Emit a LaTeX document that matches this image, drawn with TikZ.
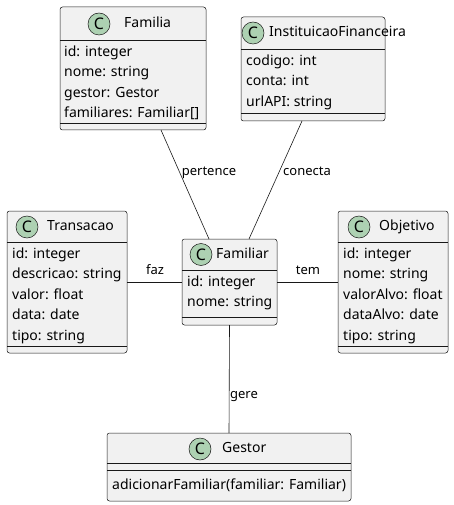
\documentclass[tikz,border=0pt]{standalone}
\usepackage{fontspec}
\setmainfont{Noto Sans}
\definecolor{boxfill}{HTML}{F1F1F1}
\definecolor{boxline}{HTML}{181818}
\definecolor{spotfill}{HTML}{ADD1B2}
\definecolor{spotline}{HTML}{181818}
\tikzset{
  classbox/.style={draw=boxline, fill=boxfill, line width=0.5pt, rounded corners=2.5pt, anchor=north west, inner sep=0pt, outer sep=0pt},
  spot/.style={circle, draw=spotline, fill=spotfill, line width=0.5pt, minimum size=22pt, inner sep=0pt, font=\fontsize{16}{16}\selectfont\bfseries},
  cname/.style={anchor=west, inner sep=0pt, text height=10.5pt, text depth=3pt, font=\fontsize{14}{16}\selectfont},
  attr/.style={anchor=west, inner sep=0pt, text height=10.5pt, text depth=3pt, font=\fontsize{14}{16}\selectfont},
  lbl/.style={inner sep=0pt, text height=9.5pt, text depth=3pt, font=\fontsize{13}{15}\selectfont},
  sep/.style={draw=boxline, line width=0.5pt},
  link/.style={draw=boxline, line width=0.6pt}
}
\begin{document}
\begin{tikzpicture}[x=1pt, y=-1pt]
\useasboundingbox (0,0) rectangle (454,505);
% Familia
\node[classbox, minimum width=146pt, minimum height=123pt] (familia) at (60,7) {};
\draw[sep] (60,40) -- (206,40) (60,123) -- (206,123);
\node[spot] (sfamilia) at (99,24) {C};
\node[cname] (nfamilia) at (124,24) {Familia};
\node[attr] (a11) at (64,52.3) {id: integer};
\node[attr] (a12) at (64,72.8) {nome: string};
\node[attr] (a13) at (64,93.3) {gestor: Gestor};
\node[attr] (a14) at (64,113.8) {familiares: Familiar[]};
% InstituicaoFinanceira
\node[classbox, minimum width=144pt, minimum height=104pt] (inst) at (241,17) {};
\draw[sep] (241,49) -- (385,49) (241,113) -- (385,113);
\node[spot] (sinst) at (253,33) {C};
\node[cname] (ninst) at (269,33) {InstituicaoFinanceira};
\node[attr] (a21) at (246,61.3) {codigo: int};
\node[attr] (a22) at (246,81.8) {conta: int};
\node[attr] (a23) at (246,102.3) {urlAPI: string};
% Transacao
\node[classbox, minimum width=120pt, minimum height=142pt] (transacao) at (7,211) {};
\draw[sep] (7,242) -- (127,242) (7,346) -- (127,346);
\node[spot] (stransacao) at (27,227) {C};
\node[cname] (ntransacao) at (47,227) {Transacao};
\node[attr] (a31) at (12,254.3) {id: integer};
\node[attr] (a32) at (12,274.8) {descricao: string};
\node[attr] (a33) at (12,295.3) {valor: float};
\node[attr] (a34) at (12,315.8) {data: date};
\node[attr] (a35) at (12,336.3) {tipo: string};
% Familiar
\node[classbox, minimum width=95pt, minimum height=86pt] (familiar) at (182,239) {};
\draw[sep] (182,270) -- (277,270) (182,317) -- (277,317);
\node[spot] (sfamiliar) at (201,254.5) {C};
\node[cname] (nfamiliar) at (216,254.5) {Familiar};
\node[attr] (a41) at (187,282.3) {id: integer};
\node[attr] (a42) at (187,302.8) {nome: string};
% Objetivo
\node[classbox, minimum width=110pt, minimum height=142pt] (objetivo) at (338,211) {};
\draw[sep] (338,242) -- (448,242) (338,346) -- (448,346);
\node[spot] (sobjetivo) at (359,227) {C};
\node[cname] (nobjetivo) at (379,227) {Objetivo};
\node[attr] (a51) at (343,254.3) {id: integer};
\node[attr] (a52) at (343,274.8) {nome: string};
\node[attr] (a53) at (343,295.3) {valorAlvo: float};
\node[attr] (a54) at (343,315.8) {dataAlvo: date};
\node[attr] (a55) at (343,336.3) {tipo: string};
% Gestor
\node[classbox, minimum width=244pt, minimum height=68pt] (gestor) at (107,433) {};
\draw[sep] (107,463) -- (351,463) (107,470) -- (351,470);
\node[spot] (sgestor) at (200,449) {C};
\node[cname] (ngestor) at (222,449) {Gestor};
\node[attr] (a61) at (112,486) {adicionarFamiliar(familiar: Familiar)};
% connectors
\draw[link] ([xshift=28pt]familia.south) -- ([xshift=-20.5pt]familiar.north);
\draw[link] ([xshift=-11pt]inst.south) -- ([xshift=19.5pt]familiar.north);
\draw[link] (transacao.east) -- (familiar.west);
\draw[link] (familiar.east) -- (objetivo.west);
\draw[link] (familiar.south) -- (gestor.north);
% labels
\node[lbl] (lpertence) at (209,172) {pertence};
\node[lbl] (lconecta) at (307,172) {conecta};
\node[lbl] (lfaz) at (155,271) {faz};
\node[lbl] (ltem) at (308,271) {tem};
\node[lbl] (lgere) at (244,395) {gere};
\end{tikzpicture}
\end{document}
